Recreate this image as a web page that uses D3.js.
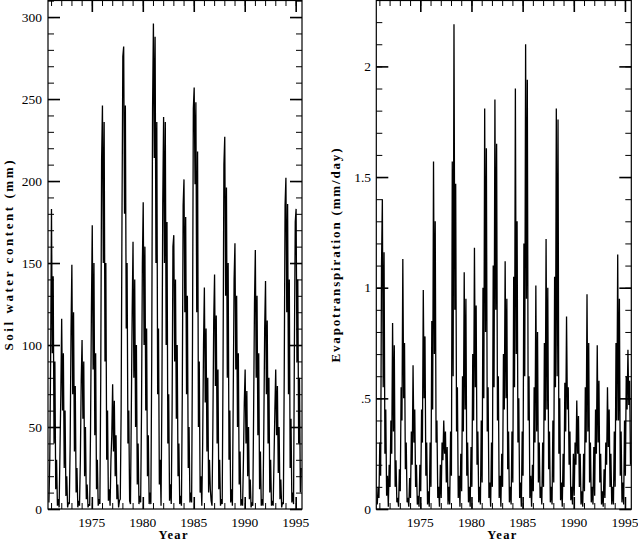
<!DOCTYPE html>
<html>
<head>
<meta charset="utf-8">
<script src="https://cdn.jsdelivr.net/npm/d3@7"></script>
<style>
html,body{margin:0;padding:0;background:#fff;}
svg{display:block;}
</style>
</head>
<body>
<svg id="chart" width="638" height="540"></svg>
<script>
// ---- DATA (monthly values, first value = Oct 1970) ----
const startYear = 1970;
const startMonth = 9; // October (0-based)

const soilWater = [
  4, 30, 92,
  183, 95, 142, 40, 90, 12, 30, 2, 6, 1, 35, 70,
  116, 60, 95, 25, 60, 8, 20, 1, 4, 3, 40, 108,
  149, 70, 120, 35, 75, 10, 25, 1, 5, 2, 30, 78,
  103, 55, 90, 20, 50, 6, 15, 1, 3, 2, 50, 120,
  173, 85, 150, 45, 95, 12, 30, 2, 6, 3, 80, 212,
  246, 150, 236, 90, 150, 30, 60, 5, 12, 2, 30, 45,
  76, 35, 66, 20, 45, 6, 15, 1, 5, 6, 60, 176,
  276, 282, 180, 246, 110, 150, 40, 60, 5, 3, 60, 120,
  163, 80, 140, 50, 100, 15, 40, 3, 8, 4, 60, 150,
  187, 100, 160, 60, 110, 20, 45, 3, 10, 3, 90, 244,
  296, 214, 288, 150, 236, 70, 110, 15, 30, 2, 70, 186,
  239, 150, 236, 100, 175, 40, 70, 5, 15, 3, 60, 160,
  167, 90, 140, 55, 100, 20, 40, 3, 8, 2, 70, 185,
  201, 120, 178, 70, 130, 25, 50, 4, 10, 4, 100, 244,
  257, 198, 248, 120, 218, 50, 90, 10, 20, 2, 40, 100,
  135, 65, 110, 35, 80, 10, 30, 12, 5, 2, 50, 115,
  143, 75, 118, 40, 85, 12, 30, 2, 6, 3, 90, 210,
  227, 130, 196, 80, 150, 30, 60, 4, 12, 2, 70, 140,
  162, 85, 130, 50, 95, 15, 35, 2, 6, 2, 30, 65,
  85, 40, 72, 20, 50, 6, 18, 1, 4, 2, 60, 125,
  158, 80, 130, 45, 95, 12, 35, 2, 6, 2, 50, 110,
  139, 70, 115, 40, 80, 10, 30, 2, 5, 2, 30, 60,
  85, 45, 75, 22, 50, 6, 18, 1, 4, 3, 80, 185,
  202, 120, 186, 70, 140, 25, 55, 4, 10, 3, 100, 175,
  183, 90, 140, 40, 80, 10, 25
];

const evapotranspiration = [
  0.02, 0.10, 0.05,
  0.30, 0.15, 1.10, 1.40, 0.55, 1.16, 0.25, 0.45, 0.06, 0.15, 0.01, 0.20,
  0.10, 0.40, 0.25, 0.84, 0.35, 0.74, 0.10, 0.22, 0.03, 0.05, 0.01, 0.18,
  0.08, 0.55, 0.40, 1.13, 0.50, 0.75, 0.18, 0.30, 0.03, 0.05, 0.01, 0.14,
  0.05, 0.35, 0.20, 0.65, 0.30, 0.45, 0.10, 0.20, 0.02, 0.06, 0.01, 0.20,
  0.08, 0.45, 0.30, 0.99, 0.50, 0.78, 0.15, 0.30, 0.02, 0.08, 0.01, 0.30,
  0.10, 0.85, 0.45, 1.57, 0.70, 1.30, 0.30, 0.40, 0.05, 0.10, 0.01, 0.20,
  0.05, 0.30, 0.22, 0.40, 0.25, 0.35, 0.12, 0.28, 0.02, 0.10, 0.02, 0.35,
  0.15, 1.57, 0.60, 2.19, 0.90, 1.47, 0.35, 0.55, 0.05, 0.15, 0.01, 0.25,
  0.08, 0.60, 0.35, 1.07, 0.45, 0.95, 0.15, 0.30, 0.03, 0.10, 0.01, 0.28,
  0.10, 0.70, 0.40, 1.18, 0.55, 0.92, 0.20, 0.35, 0.03, 0.10, 0.02, 0.40,
  0.12, 1.00, 0.50, 1.81, 0.80, 1.63, 0.35, 0.55, 0.05, 0.12, 0.01, 0.30,
  0.10, 1.10, 0.55, 1.85, 0.90, 1.65, 0.40, 0.60, 0.05, 0.15, 0.01, 0.25,
  0.10, 0.70, 0.45, 1.12, 0.50, 0.95, 0.18, 0.35, 0.03, 0.10, 0.02, 0.35,
  0.12, 1.05, 0.55, 1.90, 0.70, 1.30, 0.30, 0.50, 0.05, 0.12, 0.01, 0.35,
  0.15, 1.20, 0.60, 2.10, 0.95, 1.94, 0.40, 0.60, 0.05, 0.15, 0.01, 0.20,
  0.08, 0.55, 0.30, 1.01, 0.35, 0.80, 0.12, 0.30, 0.05, 0.10, 0.02, 0.30,
  0.10, 0.75, 0.40, 1.22, 0.45, 1.00, 0.18, 0.35, 0.03, 0.10, 0.02, 0.40,
  0.12, 1.05, 0.55, 1.81, 0.60, 1.76, 0.25, 0.50, 0.04, 0.12, 0.01, 0.25,
  0.10, 0.57, 0.35, 0.87, 0.45, 0.55, 0.20, 0.35, 0.04, 0.10, 0.02, 0.25,
  0.06, 0.30, 0.20, 0.49, 0.25, 0.42, 0.10, 0.25, 0.02, 0.08, 0.01, 0.25,
  0.08, 0.55, 0.30, 0.97, 0.35, 0.75, 0.12, 0.30, 0.03, 0.10, 0.02, 0.28,
  0.06, 0.45, 0.25, 0.74, 0.30, 0.58, 0.12, 0.25, 0.02, 0.08, 0.01, 0.18,
  0.05, 0.30, 0.20, 0.55, 0.28, 0.45, 0.10, 0.25, 0.02, 0.10, 0.02, 0.35,
  0.10, 0.75, 0.40, 1.15, 0.40, 0.95, 0.15, 0.35, 0.03, 0.12, 0.02, 0.40,
  0.15, 0.60, 0.45, 0.72, 0.47, 0.58, 0.20
];

const xMajorTicks = [1975, 1980, 1985, 1990, 1995];
const xMinorTicks = d3.range(1971, 1996);
const soilMajorTicks = [0, 50, 100, 150, 200, 250, 300];
const soilTickLabels = ["0", "50", "100", "150", "200", "250", "300"];
const soilMinorTicks = d3.range(0, 311, 10);
const etMajorTicks = [0, 0.5, 1, 1.5, 2];
const etTickLabels = ["0", ".5", "1", "1.5", "2"];
const etMinorTicks = d3.range(0, 23).map(i => i / 10);
const xLabel = "Year";
const soilLabel = "Soil water content (mm)";
const etLabel = "Evapotranspiration (mm/day)";

// ---- DRAW ----
const svg = d3.select("#chart");
const timeOf = i => startYear + (startMonth + i + 0.5) / 12;

function panel(cfg) {
  const {x0, x1, y0, y1, values, yMax, yMajor, yLabels, yMinor, title, titleX, titleLen, labelX} = cfg;
  const g = svg.append("g");
  const x = d3.scaleLinear().domain([1970.7, 1995.62]).range([x0, x1]);
  const y = d3.scaleLinear().domain([0, yMax]).range([y1, y0]);

  // data line
  const line = d3.line().x((d, i) => x(timeOf(i))).y(d => y(d));
  g.append("path")
    .datum(values)
    .attr("d", line)
    .attr("fill", "none")
    .attr("stroke", "#000")
    .attr("stroke-width", 1.3)
    .attr("stroke-linejoin", "miter")
    .attr("stroke-miterlimit", 2);

  // frame
  g.append("rect")
    .attr("x", x0).attr("y", y0 + 0.5)
    .attr("width", x1 - x0).attr("height", y1 - y0 - 0.5)
    .attr("fill", "none").attr("stroke", "#000").attr("stroke-width", 1.2);

  const majLen = 12, minLen = 6;
  // x ticks, top & bottom, inward
  const axTop = d3.axisBottom(x).tickValues(xMinorTicks).tickSize(minLen).tickFormat("");
  const axTopMaj = d3.axisBottom(x).tickValues(xMajorTicks).tickSize(majLen).tickFormat("");
  const axBot = d3.axisTop(x).tickValues(xMinorTicks).tickSize(minLen).tickFormat("");
  const axBotMaj = d3.axisTop(x).tickValues(xMajorTicks).tickSize(majLen).tickFormat("");
  [[axTop, y0], [axTopMaj, y0], [axBot, y1], [axBotMaj, y1]].forEach(([ax, yy], k) => {
    const a = g.append("g").attr("transform", `translate(0,${yy})`).call(ax);
    a.select(".domain").remove();
    a.selectAll("line").attr("stroke", "#000").attr("stroke-width", k % 2 ? 1.6 : 1);
  });
  // y ticks, left & right, inward
  const axL = d3.axisRight(y).tickValues(yMinor).tickSize(minLen).tickFormat("");
  const axLMaj = d3.axisRight(y).tickValues(yMajor).tickSize(majLen).tickFormat("");
  const axR = d3.axisLeft(y).tickValues(yMinor).tickSize(minLen).tickFormat("");
  const axRMaj = d3.axisLeft(y).tickValues(yMajor).tickSize(majLen).tickFormat("");
  [[axL, x0], [axLMaj, x0], [axR, x1], [axRMaj, x1]].forEach(([ax, xx], k) => {
    const a = g.append("g").attr("transform", `translate(${xx},0)`).call(ax);
    a.select(".domain").remove();
    a.selectAll("line").attr("stroke", "#000").attr("stroke-width", k % 2 ? 1.6 : 1);
  });

  // y tick labels
  g.selectAll(".ylab").data(yMajor).enter().append("text")
    .attr("x", labelX)
    .attr("y", d => y(d) + 4.5)
    .attr("text-anchor", "end")
    .attr("font-family", "Liberation Serif, serif")
    .attr("font-size", 13.5)
    .attr("fill", "#000")
    .text((d, i) => yLabels[i]);

  // x tick labels
  g.selectAll(".xlab").data(xMajorTicks).enter().append("text")
    .attr("x", d => x(d))
    .attr("y", 527)
    .attr("text-anchor", "middle")
    .attr("font-family", "Liberation Serif, serif")
    .attr("font-size", 13.5)
    .attr("fill", "#000")
    .text(d => String(d));

  // x title
  g.append("text")
    .attr("x", (x0 + x1) / 2 - 2)
    .attr("y", 538.5)
    .attr("text-anchor", "middle")
    .attr("font-family", "Liberation Serif, serif")
    .attr("font-weight", "bold")
    .attr("font-size", 12.5)
    .attr("textLength", 29)
    .attr("lengthAdjust", "spacing")
    .attr("fill", "#000")
    .text(xLabel);

  // y title
  g.append("text")
    .attr("transform", `translate(${titleX},${(y0 + y1) / 2 + 1}) rotate(-90)`)
    .attr("text-anchor", "middle")
    .attr("font-family", "Liberation Serif, serif")
    .attr("font-weight", "bold")
    .attr("font-size", 13)
    .attr("textLength", titleLen)
    .attr("lengthAdjust", "spacing")
    .attr("fill", "#000")
    .text(title);
}

panel({x0: 48, x1: 302, y0: 0, y1: 509, values: soilWater, yMax: 310.4,
  yMajor: soilMajorTicks, yLabels: soilTickLabels, yMinor: soilMinorTicks,
  title: soilLabel, titleX: 12.5, titleLen: 190, labelX: 42});

panel({x0: 376.3, x1: 631.3, y0: 0, y1: 509, values: evapotranspiration, yMax: 2.30,
  yMajor: etMajorTicks, yLabels: etTickLabels, yMinor: etMinorTicks,
  title: etLabel, titleX: 340, titleLen: 214, labelX: 371});
</script>
</body>
</html>
